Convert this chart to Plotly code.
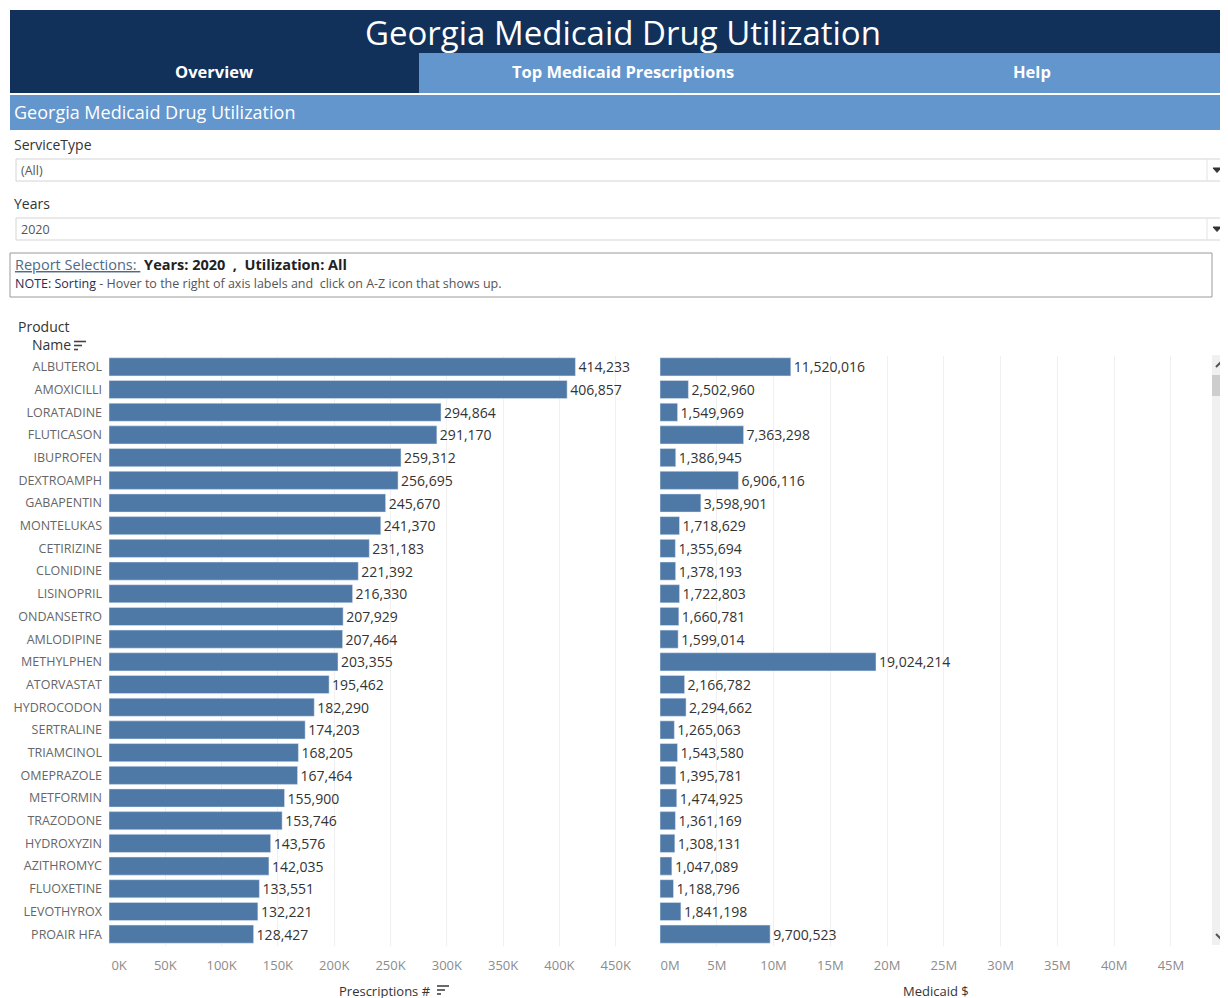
import plotly.graph_objects as go

# ---------------- data ----------------
products = ["ALBUTEROL", "AMOXICILLI", "LORATADINE", "FLUTICASON", "IBUPROFEN",
            "DEXTROAMPH", "GABAPENTIN", "MONTELUKAS", "CETIRIZINE", "CLONIDINE",
            "LISINOPRIL", "ONDANSETRO", "AMLODIPINE", "METHYLPHEN", "ATORVASTAT",
            "HYDROCODON", "SERTRALINE", "TRIAMCINOL", "OMEPRAZOLE", "METFORMIN",
            "TRAZODONE", "HYDROXYZIN", "AZITHROMYC", "FLUOXETINE", "LEVOTHYROX",
            "PROAIR HFA"]
prescriptions = [414233, 406857, 294864, 291170, 259312, 256695, 245670, 241370,
                 231183, 221392, 216330, 207929, 207464, 203355, 195462, 182290,
                 174203, 168205, 167464, 155900, 153746, 143576, 142035, 133551,
                 132221, 128427]
medicaid_dollars = [11520016, 2502960, 1549969, 7363298, 1386945, 6906116, 3598901,
                    1718629, 1355694, 1378193, 1722803, 1660781, 1599014, 19024214,
                    2166782, 2294662, 1265063, 1543580, 1395781, 1474925, 1361169,
                    1308131, 1047089, 1188796, 1841198, 9700523]
rx_tickvals = [0, 50000, 100000, 150000, 200000, 250000, 300000, 350000, 400000, 450000]
rx_ticktext = ["0K", "50K", "100K", "150K", "200K", "250K", "300K", "350K", "400K", "450K"]
usd_tickvals = [0, 5e6, 10e6, 15e6, 20e6, 25e6, 30e6, 35e6, 40e6, 45e6]
usd_ticktext = ["0M", "5M", "10M", "15M", "20M", "25M", "30M", "35M", "40M", "45M"]

# ---------------- layout helpers ----------------
W, H = 1228, 998
OFF = 8  # page body margin
FONT = "Open Sans"
NAVY = "#11305A"
LIGHT = "#6396CD"
BAR = "#4E79A7"
PAD0 = "\u00a0" * 6  # first tick label sits inside the axis, as in the reference


def px(x):
    return (x - OFF) / W


def py(y):
    return 1 - (y - OFF) / H


def first_inside(labels):
    return [PAD0 + t if i == 0 else t for i, t in enumerate(labels)]


fig = go.Figure()

fig.add_trace(go.Bar(
    y=products, x=prescriptions, orientation="h", marker_color=BAR,
    text=prescriptions, texttemplate="%{x:,}", textposition="outside",
    textfont=dict(family=FONT, size=14, color="#333333"),
    cliponaxis=False, constraintext="none",
    xaxis="x", yaxis="y", hoverinfo="y+x"))

fig.add_trace(go.Bar(
    y=products, x=medicaid_dollars, orientation="h", marker_color=BAR,
    text=medicaid_dollars, texttemplate="%{x:,}", textposition="outside",
    textfont=dict(family=FONT, size=14, color="#333333"),
    cliponaxis=False, constraintext="none",
    xaxis="x2", yaxis="y2", hoverinfo="y+x"))

ydom = [py(945.5), py(355.5)]
axis_common = dict(showgrid=True, gridcolor="#f0f0f0", gridwidth=1, zeroline=False,
                   showline=False, ticks="", ticklabelstandoff=10, automargin=False,
                   tickfont=dict(family=FONT, size=13, color="#8c8c8c"),
                   fixedrange=True)

fig.update_layout(
    width=W, height=H, margin=dict(l=0, r=0, t=0, b=0, pad=0),
    paper_bgcolor="white", plot_bgcolor="white", showlegend=False,
    bargap=0.2,
    font=dict(family=FONT, color="#333333"),
    xaxis=dict(domain=[px(109), px(645)], range=[0, 476000], anchor="y",
               tickvals=rx_tickvals, ticktext=first_inside(rx_ticktext), **axis_common),
    xaxis2=dict(domain=[px(660), px(1205)], range=[0, 48e6], anchor="y2",
                tickvals=usd_tickvals, ticktext=first_inside(usd_ticktext), **axis_common),
    yaxis=dict(domain=ydom, autorange="reversed", anchor="x", showgrid=False,
               zeroline=False, ticks="", ticklabelstandoff=6, automargin=False,
               tickfont=dict(family=FONT, size=12.5, color="#666666"),
               fixedrange=True),
    yaxis2=dict(domain=ydom, autorange="reversed", anchor="x2", showgrid=False,
                zeroline=False, showticklabels=False, automargin=False,
                fixedrange=True),
)

shapes = []


def rect(x0, y0, x1, y1, fill=None, line=None, lw=1):
    shapes.append(dict(type="rect", xref="paper", yref="paper",
                       x0=px(x0), x1=px(x1), y0=py(y1), y1=py(y0),
                       fillcolor=fill if fill else "rgba(0,0,0,0)",
                       line=dict(color=line if line else "rgba(0,0,0,0)", width=lw if line else 0),
                       layer="below" if fill and not line else "above"))


def seg(x0, y0, x1, y1, color, w=1):
    shapes.append(dict(type="line", xref="paper", yref="paper",
                       x0=px(x0), x1=px(x1), y0=py(y0), y1=py(y1),
                       line=dict(color=color, width=w)))


def path(points, fill=None, color="#555555", w=1.5, closed=False):
    d = "M " + " L ".join(f"{px(x):.5f},{py(y):.5f}" for x, y in points)
    if closed:
        d += " Z"
    shapes.append(dict(type="path", xref="paper", yref="paper", path=d,
                       fillcolor=fill if fill else "rgba(0,0,0,0)",
                       line=dict(color=color, width=w)))


def sort_icon(x, y):
    seg(x, y, x + 12, y, "#444444", 1.6)
    seg(x, y + 4, x + 8, y + 4, "#444444", 1.6)
    seg(x, y + 8, x + 4, y + 8, "#444444", 1.6)


# header bands
rect(10, 10, 1240, 53, fill=NAVY)
rect(10, 53, 419, 93, fill=NAVY)
rect(419, 53, 1240, 93, fill=LIGHT)
rect(10, 95, 1240, 130, fill=LIGHT)

# dropdowns
for (y0, y1) in [(159, 181), (218, 240)]:
    rect(16, y0, 1240, y1, fill="white", line="#d4d4d4", lw=1)
    seg(1207, y0, 1207, y1, "#e2e2e2", 1)
    yc = (y0 + y1) / 2
    path([(1213, yc - 2), (1221, yc - 2), (1217, yc + 2.5)], fill="#333333",
         color="#333333", w=1, closed=True)

# report box
rect(10, 253, 1212, 297, line="#9a9a9a", lw=1)

# sort icons
sort_icon(74, 341.5)
sort_icon(437, 986)

# scrollbar
rect(1212, 355, 1228, 945, fill="#f0f0f0")
rect(1212, 375, 1228, 396, fill="#cdcdcd")
path([(1216, 367), (1220, 363), (1224, 367)], color="#555555", w=2)
path([(1216, 934), (1220, 938), (1224, 934)], color="#555555", w=2)

fig.update_layout(shapes=shapes)

annotations = []


def text(x, y, s, size, color="#333333", xanchor="left", family=FONT):
    annotations.append(dict(xref="paper", yref="paper", x=px(x), y=py(y), text=s,
                            showarrow=False, xanchor=xanchor, yanchor="middle",
                            font=dict(family=family, size=size, color=color)))


text(623, 33, "Georgia Medicaid Drug Utilization", 33, "white", "center")
text(214, 72, "<b>Overview</b>", 16.5, "white", "center")
text(623, 72, "<b>Top Medicaid Prescriptions</b>", 16.5, "white", "center")
text(1032, 72, "<b>Help</b>", 16.5, "white", "center")
text(12, 112, "Georgia Medicaid Drug Utilization", 18, "white")
text(12, 144, "ServiceType", 14, "#333333")
text(19, 170, "(All)", 12.5, "#555555")
text(12, 203, "Years", 14, "#333333")
text(19, 229, "2020", 12.5, "#555555")
text(13, 264, "<span style='color:#4f6a86'><u>Report Selections: </u></span> "
              "<b>Years: 2020  ,  Utilization: All</b>", 14.5, "#222222")
text(13, 283, "<span style='color:#1f2f55'>NOTE: Sorting</span> - Hover to the right of axis "
              "labels and  click on A-Z icon that shows up.", 12.5, "#555555")
text(16, 326, "Product", 14, "#333333")
text(30, 345, "Name", 14, "#333333")
text(385, 991, "Prescriptions #", 13, "#333333", "center")
text(936, 991, "Medicaid $", 13, "#333333", "center")

fig.update_layout(annotations=annotations)

fig.write_html("out.html")
